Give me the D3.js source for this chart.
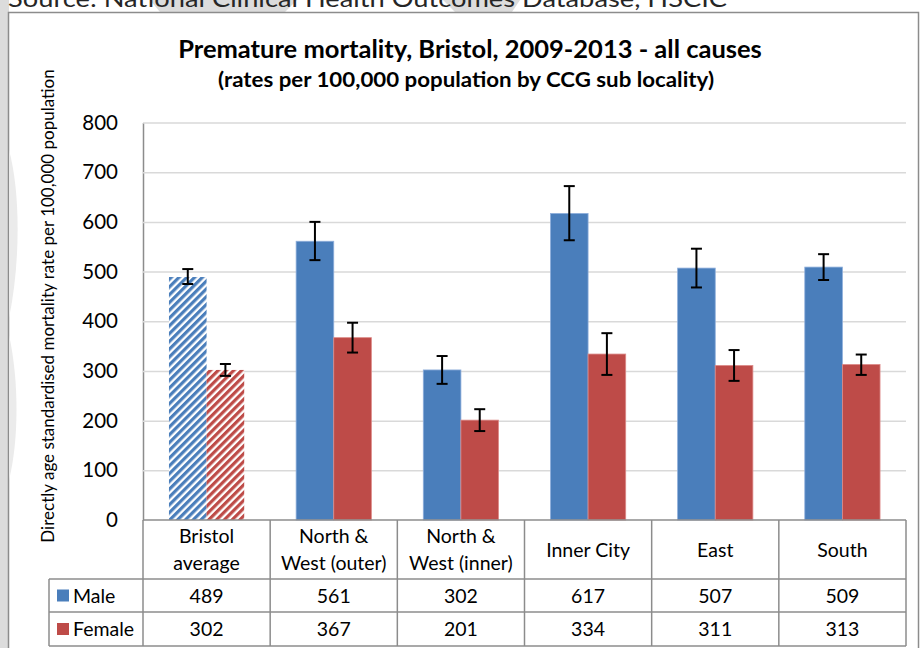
<!DOCTYPE html>
<html>
<head>
<meta charset="utf-8">
<script src="https://cdn.jsdelivr.net/npm/d3@7"></script>
<style>
  body { margin: 0; background: #fff; }
  svg { display: block; font-family: Lato, "Open Sans", sans-serif; }
</style>
</head>
<body>
<svg></svg>
<script>
const categories = [["Bristol", "average"], ["North &", "West (outer)"], ["North &", "West (inner)"], ["Inner City"], ["East"], ["South"]];
const seriesNames = ["Male", "Female"];
const maleValues = [489, 561, 302, 617, 507, 509];
const femaleValues = [302, 367, 201, 334, 311, 313];
const maleLow = [475, 523, 274, 563, 468, 483];
const maleHigh = [505, 600, 330, 672, 546, 535];
const femaleLow = [290, 337, 179, 292, 280, 292];
const femaleHigh = [314, 397, 223, 376, 342, 333];
const yTicks = [0, 100, 200, 300, 400, 500, 600, 700, 800];

const width = 921, height = 648;
const marginLeft = 143, marginRight = 15, plotTop = 122.5, plotBottom = 520;
const headerBottom = 579, row1Bottom = 612, row2Bottom = 646, tableLeft = 49;
const colors = { Male: "#4a7ebb", Female: "#be4b48" };
const edge = { Male: "#8eaedb", Female: "#dc8a88" };
const lineColor = "#8c8c8c";

const svg = d3.select("svg")
  .attr("width", width)
  .attr("height", height)
  .attr("viewBox", [0, 0, width, height]);

// watermark shapes behind the chart
const wm = svg.append("g").attr("fill", "#dcdcdc");
wm.append("path").attr("d", "M150,0 L297,0 L285,12 L160,12 Z");
wm.append("path").attr("d", "M443,0 L520,0 L512,12 L455,12 Z");
wm.append("rect").attr("x", 0).attr("y", 0).attr("width", 9).attr("height", height);

// chart frame
svg.append("rect")
  .attr("x", 8.5).attr("y", 12.5)
  .attr("width", 910).attr("height", 650)
  .attr("fill", "#fff")
  .attr("stroke", lineColor).attr("stroke-width", 1.5);

// faint watermark showing through on the left edge
const wm2 = svg.append("g").attr("fill", "#ebebeb");
wm2.append("path").attr("d", "M9,150 C20,190 21,260 9,318 Z");
wm2.append("path").attr("d", "M9,335 C19,380 19,440 9,480 Z");

// source line, cut off at the top
svg.append("text")
  .attr("x", 8).attr("y", 7)
  .attr("fill", "#262626")
  .style("font-size", "24px")
  .attr("textLength", 719)
  .attr("lengthAdjust", "spacingAndGlyphs")
  .text("Source: National Clinical Health Outcomes Database, HSCIC");

// patterns for the Bristol average bars
const defs = svg.append("defs");
seriesNames.forEach(s => {
  const p = defs.append("pattern")
    .attr("id", "hatch-" + s)
    .attr("patternUnits", "userSpaceOnUse")
    .attr("width", 5.5).attr("height", 5.5)
    .attr("patternTransform", "rotate(45)");
  p.append("rect").attr("width", 5.5).attr("height", 5.5).attr("fill", "#fff");
  p.append("rect").attr("width", 3.2).attr("height", 5.5).attr("fill", colors[s]);
});

const x = d3.scaleBand()
  .domain(categories.map((d, i) => i))
  .range([marginLeft, width - marginRight]);

const x1 = d3.scaleBand()
  .domain(seriesNames)
  .range([0, x.bandwidth()])
  .paddingOuter(0.69);

const y = d3.scaleLinear()
  .domain([0, 800])
  .range([plotBottom, plotTop]);

// title
svg.append("text")
  .attr("x", 470).attr("y", 58)
  .attr("text-anchor", "middle")
  .style("font-size", "25.5px").style("font-weight", "bold")
  .text("Premature mortality, Bristol, 2009-2013 - all causes");
svg.append("text")
  .attr("x", 466).attr("y", 87)
  .attr("text-anchor", "middle")
  .style("font-size", "21px").style("font-weight", "bold")
  .attr("textLength", 496)
  .attr("lengthAdjust", "spacingAndGlyphs")
  .text("(rates per 100,000 population by CCG sub locality)");

// y axis with grid lines
svg.append("g")
  .attr("transform", `translate(${marginLeft},0)`)
  .call(d3.axisLeft(y).tickValues(yTicks).tickSize(0).tickPadding(25))
  .call(g => g.select(".domain").attr("stroke", lineColor).attr("stroke-width", 1.5))
  .call(g => g.selectAll(".tick text").style("font-size", "20.5px").attr("fill", "#000").attr("font-family", "Lato, sans-serif"))
  .call(g => g.selectAll(".tick").filter(d => d > 0).append("line")
    .attr("x2", width - marginRight - marginLeft)
    .attr("stroke", "#d9d9d9").attr("stroke-width", 1.5));

svg.append("text")
  .attr("transform", "translate(54,306) rotate(-90)")
  .attr("text-anchor", "middle")
  .style("font-size", "17px")
  .text("Directly age standardised mortality rate per 100,000 population");

// bars
const rows = categories.map((c, i) => [
  { i, key: "Male", value: maleValues[i], low: maleLow[i], high: maleHigh[i] },
  { i, key: "Female", value: femaleValues[i], low: femaleLow[i], high: femaleHigh[i] }
]);

const group = svg.append("g")
  .selectAll("g")
  .data(rows)
  .join("g")
  .attr("transform", (d, i) => `translate(${x(i)},0)`);

group.selectAll("rect")
  .data(d => d)
  .join("rect")
  .attr("x", d => x1(d.key))
  .attr("y", d => y(d.value))
  .attr("width", x1.bandwidth())
  .attr("height", d => y(0) - y(d.value))
  .attr("fill", d => d.i === 0 ? `url(#hatch-${d.key})` : colors[d.key])
  .attr("stroke", d => d.i === 0 ? "none" : edge[d.key])
  .attr("stroke-width", 0.8);

// error bars
const err = group.selectAll("g.err")
  .data(d => d)
  .join("g")
  .attr("class", "err")
  .attr("stroke", "#000")
  .attr("stroke-width", 2);

err.append("line")
  .attr("x1", d => x1(d.key) + x1.bandwidth() / 2)
  .attr("x2", d => x1(d.key) + x1.bandwidth() / 2)
  .attr("y1", d => y(d.low))
  .attr("y2", d => y(d.high));
err.selectAll("line.cap")
  .data(d => [d.low, d.high].map(v => ({ v, cx: x1(d.key) + x1.bandwidth() / 2 })))
  .join("line")
  .attr("class", "cap")
  .attr("x1", d => d.cx - 5.5)
  .attr("x2", d => d.cx + 5.5)
  .attr("y1", d => y(d.v))
  .attr("y2", d => y(d.v));

// data table below the axis
const table = svg.append("g").attr("stroke", lineColor).attr("stroke-width", 1.5);
table.append("line").attr("x1", marginLeft).attr("x2", width - marginRight)
  .attr("y1", plotBottom).attr("y2", plotBottom);
[headerBottom, row1Bottom, row2Bottom].forEach(yy => {
  table.append("line").attr("x1", tableLeft).attr("x2", width - marginRight)
    .attr("y1", yy).attr("y2", yy);
});
table.append("line").attr("x1", tableLeft).attr("x2", tableLeft)
  .attr("y1", headerBottom).attr("y2", row2Bottom);
x.domain().concat([categories.length]).forEach(i => {
  const xx = i < categories.length ? x(i) : x(i - 1) + x.bandwidth();
  table.append("line").attr("x1", xx).attr("x2", xx)
    .attr("y1", plotBottom).attr("y2", row2Bottom);
});

const labels = svg.append("g").attr("text-anchor", "middle").style("font-size", "19.5px");
categories.forEach((lines, i) => {
  const t = labels.append("text")
    .attr("x", x(i) + x.bandwidth() / 2)
    .attr("y", lines.length === 1 ? 557 : 543);
  lines.forEach((l, k) => t.append("tspan")
    .attr("x", x(i) + x.bandwidth() / 2)
    .attr("dy", k === 0 ? 0 : 27)
    .text(l));
});

const valueRows = [
  { key: "Male", values: maleValues, y: (headerBottom + row1Bottom) / 2 },
  { key: "Female", values: femaleValues, y: (row1Bottom + row2Bottom) / 2 }
];
valueRows.forEach(r => {
  r.values.forEach((v, i) => labels.append("text")
    .attr("x", x(i) + x.bandwidth() / 2)
    .attr("y", r.y + 7)
    .text(v));
  svg.append("rect")
    .attr("x", 57).attr("y", r.y - 6)
    .attr("width", 12).attr("height", 12)
    .attr("fill", colors[r.key]);
  svg.append("text")
    .attr("x", 73).attr("y", r.y + 7)
    .style("font-size", "19.5px")
    .text(r.key);
});
</script>
</body>
</html>
